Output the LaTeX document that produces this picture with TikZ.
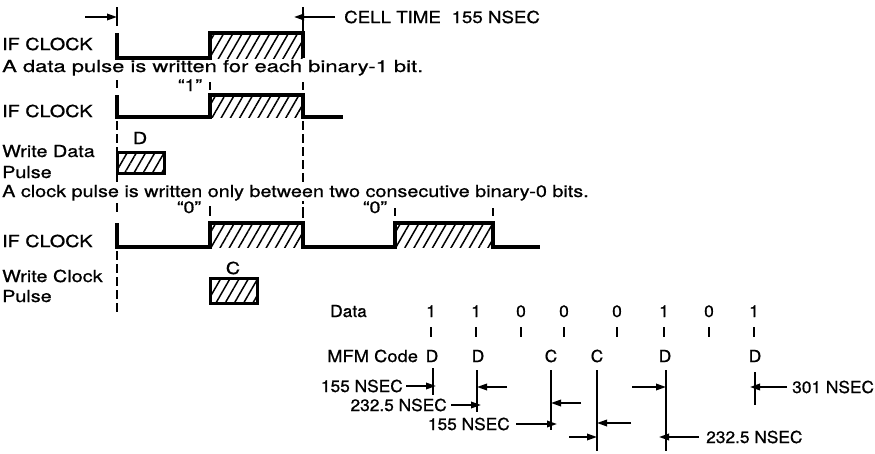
\documentclass[tikz,border=0pt]{standalone}
\usepackage{fontspec}
\setmainfont{TeX Gyre Heros}
\newfontfamily\wideF{TeX Gyre Heros}[FakeStretch=1.2,FakeBold=0.8]
\newfontfamily\normF{TeX Gyre Heros}[FakeStretch=1.05,FakeBold=0.8]
\usetikzlibrary{arrows.meta,patterns.meta}
\begin{document}
\begin{tikzpicture}[x=1pt,y=-1pt,
  wave/.style={line width=3.3pt, line join=miter},
  boxln/.style={line width=3pt, line join=miter},
  hatchbox/.style={pattern={Lines[angle=60,distance=8pt,line width=1.5pt]}},
  dashln/.style={line width=1.6pt, dash pattern=on 9pt off 4pt},
  tickln/.style={line width=1.8pt},
  codeln/.style={line width=2.4pt},
  arr/.style={line width=1.8pt,-{Triangle[length=10pt,width=6.5pt]}},
  wtext/.style={font=\wideF\fontsize{16.5}{19}\selectfont, inner sep=0pt, anchor=base west},
  ntext/.style={font=\normF\fontsize{16.5}{19}\selectfont, inner sep=0pt},
]
\useasboundingbox (0,0) rectangle (875,453);

% ---------- top: cell time ----------
\coordinate (tA) at (117,7);
\coordinate (tB) at (303,7);
\draw[tickln] (tA) -- (117,26);
\draw[tickln] (tB) -- (303,33);
\coordinate (arrL) at (85,17);
\draw[arr] (arrL) -- (arrL -| tA);
\node[ntext, anchor=base west] (cell) at (344,23) {\scalebox{1.08}[1]{CELL TIME\hspace{0.6em}155 NSEC}};
\draw[arr] ([xshift=-9pt]cell.west) -- ([xshift=-9pt]cell.west -| tB);

% ---------- row 1 ----------
\node[wtext] (if1) at (2,50) {IF CLOCK};
\path[hatchbox] (210,33) rectangle (303,58);
\draw[wave] (117,33) -- (117,58) -- (210,58) -- (210,33) -- (303,33) -- (303,58);
\node[wtext] (s1) at (2,72) {\scalebox{1.11}[1]{A data pulse is written for each binary-1 bit.}};

% ---------- row 2 ----------
\draw[tickln] (117,80) -- (117,88);
\draw[tickln] (210,82) -- (210,90);
\draw[tickln] (303,82) -- (303,90);
\node[wtext, anchor=base] (q1) at (190,91) {“1”};
\node[wtext] (if2) at (2,117) {IF CLOCK};
\path[hatchbox] (210,95) rectangle (303,117);
\draw[wave] (117,95) -- (117,117) -- (210,117) -- (210,95) -- (303,95) -- (303,117) -- (343,117);
\draw[dashln] (117,121) -- (117,182);
\draw[dashln] (303,121) -- (303,182);
\node[wtext, anchor=base] (dD) at (140,144) {D};
\path[hatchbox] (117,152) rectangle (164,173);
\draw[boxln] (117,152) rectangle (164,173);
\node[wtext] (wd1) at (2,157) {Write Data};
\node[wtext] (wd2) at (2,178) {Pulse};
\node[wtext] (s2) at (2,197) {A clock pulse is written only between two consecutive binary-0 bits.};

% ---------- row 3 ----------
\draw[tickln] (117,203) -- (117,212);
\draw[tickln] (210,206) -- (210,216);
\draw[tickln] (303,201) -- (303,203.5);
\draw[tickln] (303,207) -- (303,218);
\draw[tickln] (395,208) -- (395,216);
\draw[tickln] (493,208) -- (493,216);
\node[wtext, anchor=base] (q0a) at (189,213) {“0”};
\node[wtext, anchor=base] (q0b) at (375,213) {“0”};
\node[wtext] (if3) at (2,247) {IF CLOCK};
\path[hatchbox] (210,223) rectangle (303,247);
\path[hatchbox] (395,223) rectangle (493,247);
\draw[wave] (117,223) -- (117,247) -- (210,247) -- (210,223) -- (303,223) -- (303,247)
  -- (395,247) -- (395,223) -- (493,223) -- (493,247) -- (540,247);
\draw[dashln] (117,251) -- (117,313);
\node[wtext, anchor=base] (cC) at (233,274) {C};
\path[hatchbox] (210,278) rectangle (257,303);
\draw[boxln] (210,278) rectangle (257,303);
\node[wtext] (wc1) at (2,282) {Write Clock};
\node[wtext] (wc2) at (2,302) {Pulse};

% ---------- data / MFM table ----------
\node[ntext, anchor=base west] (data) at (330,317) {Data};
\foreach \x/\b [count=\i] in {431/1,476/1,521/0,564/0,617/0,664/1,709/0,754/1}{
  \node[ntext, anchor=base] (b\i) at (\x,317) {\b};
  \draw[tickln] (\x,327) -- (\x,337);
}
\node[ntext, anchor=base west] (mfm) at (327,362) {\scalebox{1.06}[1]{MFM Code}};
\foreach \x/\l [count=\i] in {432/D,478/D,551/C,597/C,665/D,755/D}{
  \node[ntext, anchor=base] (m\i) at (\x,362) {\l};
}
\coordinate (c1) at (433,368); \draw[codeln] (c1) -- (433,395);
\coordinate (c2) at (477,370); \draw[codeln] (c2) -- (477,412);
\coordinate (c3) at (551,370); \draw[codeln] (c3) -- (551,430);
\coordinate (c4) at (597,370); \draw[codeln] (c4) -- (597,451);
\coordinate (c5) at (666,370); \draw[codeln] (c5) -- (666,451);
\coordinate (c6) at (755,372); \draw[codeln] (c6) -- (755,405);

\node[ntext, anchor=base east] (n1) at (403,392) {155 NSEC};
\draw[arr] ([xshift=3pt]n1.east) -- ([xshift=3pt]n1.east -| c1);
\coordinate (r1) at (507,387);
\draw[arr] (r1) -- (r1 -| c2);

\node[ntext, anchor=base east] (n2) at (447,411) {232.5 NSEC};
\draw[arr] ([xshift=4pt]n2.east) -- ([xshift=4pt]n2.east -| c2);
\coordinate (r2) at (581,403);
\draw[arr] (r2) -- (r2 -| c3);

\node[ntext, anchor=base east] (n3) at (510,430) {155 NSEC};
\draw[arr] ([xshift=6pt]n3.east) -- ([xshift=6pt]n3.east -| c3);
\coordinate (r3) at (631,423);
\draw[arr] (r3) -- (r3 -| c4);
\coordinate (l4) at (569,437);
\draw[arr] (l4) -- (l4 -| c4);

\coordinate (l5) at (632,387);
\draw[arr] (l5) -- (l5 -| c5);
\node[ntext, anchor=base west] (n5) at (706,443) {232.5 NSEC};
\draw[arr] ([xshift=-7pt]n5.west) -- ([xshift=-7pt]n5.west -| c5);

\node[ntext, anchor=base west] (n6) at (792,393) {301 NSEC};
\draw[arr] ([xshift=-5pt]n6.west) -- ([xshift=-5pt]n6.west -| c6);
\end{tikzpicture}
\end{document}
